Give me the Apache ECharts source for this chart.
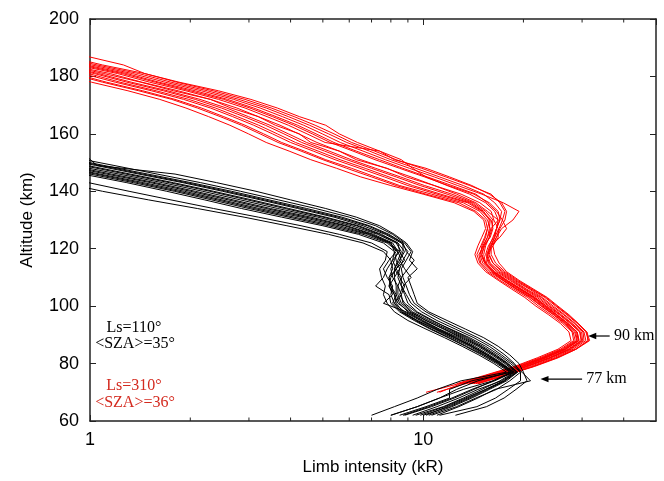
<!DOCTYPE html>
<html><head><meta charset="utf-8">
<script src="https://cdn.jsdelivr.net/npm/echarts@6/dist/echarts.min.js"></script>
<style>html,body{margin:0;padding:0;background:#fff}#c{width:664px;height:481px}</style>
</head><body><div id="c"></div>
<script>
// ---- data ----
const xTickLabels = ['1', '10'];
const minorTickValues = [2, 3, 4, 5, 6, 7, 8, 9, 20, 30, 40];

// Ls=110 (black) profiles: altitude grid (km) and intensity (kR) per profile
const blackAlt = [155,152,149,146,143,140,137,134,131,128,125,122,119,116,113,110,107,104,101,98,95,92,89,86,83,80,77,74,71,68,65,62];
const black01 = [0.5,0.67,0.9,1.22,1.65,2.18,2.83,3.66,4.82,6.1,7.3,8.3,8.6,8.4,8.2,8.2,8.3,8.3,8.5,9.0,10.0,11.2,12.8,14.3,15.8,17.3,18.8,17.0,15.0,13.2,11.5,9.5];
const black02 = [0.65,0.87,1.18,1.59,2.15,2.83,3.68,4.76,6.0,7.2,8.1,8.8,9.2,8.9,8.6,8.7,8.9,9.1,9.4,10.2,11.4,12.9,14.6,16.2,17.6,18.8,19.6,19.6,18.0,16.5,14.5,11.2];
const black03 = [0.39,0.52,0.71,0.95,1.29,1.7,2.21,2.85,3.76,5.0,6.4,7.6,8.2,8.1,7.8,7.6,7.2,7.9,8.0,8.5,9.4,10.5,11.9,13.4,15.0,16.6,18.2,14.6,12.6,11.2,9.6,8.0];
const black04 = [0.58,0.77,1.04,1.4,1.9,2.5,3.25,4.2,5.4,6.6,7.7,8.6,9.0,8.7,8.5,8.4,8.6,8.8,9.0,9.6,10.7,12.0,13.6,15.1,16.6,18.0,19.2,17.8,15.8,14.0,12.2,10.4];
const black05 = [0.44,0.59,0.8,1.07,1.45,1.92,2.49,3.22,4.3,5.6,6.9,8.0,8.3,7.9,7.6,7.8,8.1,8.0,8.2,8.8,9.8,11.0,12.5,14.0,15.5,17.0,18.6,16.2,14.2,12.4,10.6,8.8];
const black06 = [0.61,0.82,1.1,1.49,2.01,2.66,3.45,4.47,5.7,6.9,7.9,8.7,8.9,9.4,9.0,8.6,8.6,8.9,9.2,9.9,11.0,12.5,14.2,15.8,17.2,18.6,19.8,21.0,16.4,14.6,12.8,11.0];
const black07 = [0.48,0.64,0.86,1.16,1.57,2.07,2.69,3.48,4.6,5.9,7.1,8.1,8.4,8.6,8.3,8.0,7.9,8.2,8.4,9.1,10.2,11.5,13.0,14.6,16.1,17.6,19.0,17.2,14.6,12.8,11.0,9.3];
const black08 = [0.25,0.34,0.45,0.61,0.83,1.09,1.5,2.1,2.9,3.9,5.2,6.6,7.6,8.0,8.1,7.9,8.0,8.2,8.3,8.7,9.6,10.9,12.4,14.0,15.6,17.2,18.6,17.6,15.4,13.6,11.8,10.2];
const black09 = [0.9,0.98,1.05,1.8,2.4,3.15,4.0,5.1,6.3,7.4,8.2,8.9,9.3,9.1,9.6,9.0,9.2,9.4,9.6,10.4,11.8,13.4,15.2,16.8,18.2,19.4,20.0,20.5,19.0,17.5,15.5,12.5];
const black10 = [0.41,0.55,0.74,1.0,1.35,1.79,2.32,3.0,3.95,5.2,6.6,7.8,8.4,8.2,8.0,8.1,8.4,8.6,8.2,8.6,9.5,10.6,12.0,13.5,15.2,16.8,18.4,14.0,12.0,12.0,10.2,8.5];
const black11 = [0.54,0.72,0.98,1.32,1.78,2.35,3.06,3.95,5.1,6.4,7.5,8.4,8.8,8.5,8.2,8.5,8.8,8.6,8.7,9.3,10.4,11.8,13.4,14.9,16.4,17.9,19.2,17.4,15.4,13.4,11.6,9.8];
const black12 = [0.46,0.62,0.83,1.12,1.52,2.0,2.6,3.37,4.45,5.8,7.0,8.0,8.2,8.3,8.5,8.2,7.9,8.1,7.6,8.9,9.9,11.1,12.6,14.1,15.6,17.1,18.7,16.4,14.0,12.2,10.4,8.7];
const black13 = [0.59,0.79,1.07,1.44,1.95,2.57,3.34,4.32,5.55,6.8,7.8,8.7,8.7,8.5,8.8,9.2,8.7,8.5,8.8,9.5,10.6,12.1,13.8,15.4,16.9,18.3,19.6,18.2,16.6,14.4,12.6,10.6];
const black14 = [0.3,0.4,0.54,0.73,0.99,1.31,1.75,2.35,3.2,4.3,5.6,7.0,7.8,7.7,7.4,7.5,7.7,7.6,7.8,8.2,9.0,10.2,11.6,13.1,14.7,16.3,17.8,13.0,11.0,9.6,8.2,7.0];
const black15 = [0.52,0.7,0.95,1.28,1.73,2.29,2.97,3.84,5.0,6.3,7.4,8.4,8.5,8.1,8.3,8.6,8.4,8.4,8.6,9.2,10.2,11.6,13.2,14.8,16.3,17.8,19.1,17.6,15.6,13.8,12.0,10.0];
const black16 = [0.43,0.57,0.77,1.04,1.4,1.85,2.41,3.11,4.1,5.4,6.8,7.9,8.5,8.8,8.3,7.9,8.0,8.3,8.1,8.6,9.6,10.8,12.2,13.8,15.3,16.9,18.4,16.2,13.2,11.2,9.6,8.0];

// Ls=310 (red) profiles
const redAlt = [190,187,184,181,178,175,172,169,166,163,160,157,154,151,148,145,142,139,136,133,130,127,124,121,118,115,112,109,106,103,100,97,94,91,88,85,82,79,76,73,70];
const red01 = [0.75,0.98,1.26,1.46,1.85,2.43,3.04,3.65,4.25,5.1,5.6,6.35,7.4,8.2,10.2,12.0,14.0,15.8,17.2,17.8,17.6,17.0,16.6,16.2,16.4,16.9,17.8,19.4,21.4,23.6,25.4,27.4,29.2,31.0,31.2,28.8,25.4,21.6,17.8,14.6];
const red02 = [0.36,0.47,0.6,0.81,1.01,1.3,1.62,1.94,2.27,2.63,2.99,3.38,3.96,4.6,5.5,6.5,8.0,10.0,12.4,14.2,15.2,15.4,15.0,14.6,14.3,14.6,15.4,16.8,18.4,20.2,21.8,23.8,25.8,27.4,27.8,25.4,22.0,18.8,15.4,12.6];
const red03 = [0.58,0.75,0.97,1.29,1.61,2.07,2.59,3.1,3.62,4.2,4.77,5.4,6.3,7.4,8.7,10.3,12.2,14.4,15.6,16.6,17.3,17.8,17.0,16.0,15.6,15.9,17.0,18.6,20.4,22.6,24.3,26.4,28.4,30.2,30.4,27.8,24.2,20.6,17.0,14.0];
const red04 = [0.43,0.55,0.71,0.95,1.19,1.53,1.91,2.3,2.68,3.1,3.53,4.0,4.68,5.44,6.46,7.65,9.0,11.0,13.6,15.0,15.9,15.8,15.6,15.1,14.8,15.1,16.0,17.4,19.2,21.2,22.9,24.9,26.9,28.7,29.0,26.5,23.0,19.5,16.0,13.0,11.2];
const red05 = [0.5,0.65,0.84,1.1,1.42,1.78,2.3,2.65,3.2,3.6,4.25,4.6,5.6,6.3,7.8,8.9,10.8,12.6,14.4,15.6,16.8,16.0,15.6,15.2,15.0,15.4,16.3,17.8,19.6,21.6,23.4,25.2,27.2,29.0,29.3,26.8,23.2,19.8,16.4,13.4,11.0];
const red06 = [0.63,0.81,1.05,1.4,1.75,2.25,2.8,3.38,3.94,4.56,5.2,5.9,6.9,8.0,9.5,11.2,13.2,15.2,16.4,17.2,17.0,16.6,16.2,15.8,15.7,16.2,17.2,18.8,20.8,22.8,24.6,26.6,28.6,30.4,30.8,28.2,24.6,21.0,17.4,14.2];
const red07 = [0.39,0.51,0.66,0.87,1.09,1.4,1.76,2.1,2.46,2.85,3.24,3.67,4.3,5.0,5.9,7.0,8.3,10.2,12.8,14.4,15.4,15.6,15.3,14.9,14.5,14.8,15.6,17.0,18.7,20.6,22.2,24.2,26.2,28.0,28.3,25.8,22.4,19.0,15.6,12.8,10.2];
const red08 = [0.54,0.7,0.91,1.21,1.51,1.94,2.43,2.92,3.4,3.94,4.48,5.08,7.4,8.6,9.3,10.2,11.8,13.8,15.4,16.4,16.8,16.6,16.3,15.7,15.4,15.7,16.6,18.2,20.0,22.0,23.8,25.8,27.8,29.6,29.9,27.4,24.0,20.4,16.8,13.8];
const red09 = [0.46,0.6,0.77,1.03,1.29,1.66,2.07,2.48,2.9,3.36,3.82,4.32,5.06,5.9,7.0,8.3,9.8,11.8,14.0,15.2,15.8,15.6,15.4,15.0,14.9,15.3,16.2,17.6,19.4,21.4,23.1,25.1,27.1,28.9,29.2,26.7,23.3,19.9,16.3,13.3];
const red10 = [0.6,0.78,1.01,1.34,1.68,2.16,2.7,3.24,3.78,4.38,4.98,5.64,6.6,7.7,9.1,10.8,12.7,15.0,17.4,19.4,18.6,17.2,16.6,16.0,15.8,16.2,17.4,19.0,21.0,23.2,25.0,27.0,29.0,30.8,31.4,28.6,25.0,21.4,17.8,14.6];
const red11 = [0.4,0.52,0.67,0.9,1.12,1.44,1.8,2.16,2.52,2.92,3.32,3.76,4.4,5.1,6.1,7.2,8.5,10.6,13.2,14.8,15.6,15.9,15.8,15.4,15.2,15.4,16.1,17.4,19.0,20.9,22.6,24.6,26.5,28.2,28.6,26.1,22.7,19.3,15.9,12.9];
const red12 = [0.51,0.66,0.86,1.15,1.43,1.84,2.3,2.76,3.2,3.72,4.23,4.8,5.6,6.5,7.75,9.2,10.8,13.0,14.8,16.0,16.3,16.8,16.8,16.2,15.6,15.5,16.4,17.9,19.7,21.7,23.5,25.6,27.6,29.5,29.8,27.2,23.8,20.2,16.7,13.7];
const red13 = [0.48,0.62,0.8,1.06,1.33,1.71,2.14,2.57,2.99,3.47,3.94,4.47,5.22,6.08,7.2,8.55,10.1,12.2,14.2,15.4,16.2,16.1,15.8,15.3,15.0,15.3,16.2,17.7,19.5,21.5,23.2,25.2,27.2,29.0,29.4,26.8,23.4,19.9,16.4,13.4];
const red14 = [0.65,0.85,1.09,1.46,1.82,2.34,2.92,3.5,4.1,4.74,5.4,6.1,7.15,8.3,9.9,11.7,13.8,16.0,17.0,17.6,17.3,16.9,16.4,16.0,16.0,16.5,17.6,19.2,21.2,23.4,25.2,27.2,29.2,31.0,31.6,28.8,25.2,21.4,17.6,14.4];
const red15 = [0.44,0.57,0.74,0.99,1.23,1.58,1.98,2.38,2.77,3.21,3.65,4.14,4.84,5.63,6.7,7.9,9.3,11.3,13.8,15.1,16.0,16.2,15.9,15.2,14.7,14.9,15.8,17.3,19.0,21.0,22.7,24.7,26.7,28.5,28.9,26.3,22.8,19.4,16.0,13.1];
const red16 = [0.56,0.73,0.94,1.25,1.57,2.0,2.52,3.02,3.53,4.09,4.65,5.26,6.16,7.17,8.5,10.1,11.9,14.2,15.8,16.8,17.0,16.6,16.4,15.9,15.5,15.8,16.8,18.4,20.2,22.3,24.0,26.0,28.0,29.9,30.1,27.6,24.0,20.5,17.0,14.0];

const blackProfiles = [black01,black02,black03,black04,black05,black06,black07,black08,black09,black10,black11,black12,black13,black14,black15,black16];
const redProfiles = [red01,red02,red03,red04,red05,red06,red07,red08,red09,red10,red11,red12,red13,red14,red15,red16];

// annotation arrows (data coordinates: intensity kR, altitude km)
const arrowNotes = [
  {label: '90 km', head: [31.3, 89.6], tail: [36.3, 89.6], text: [37.4, 89.6]},
  {label: '77 km', head: [22.5, 74.6], tail: [30.0, 74.6], text: [30.9, 74.6]}
];

// ---- chart ----
const chart = echarts.init(document.getElementById('c'), null, {renderer: 'canvas'});
const FRAME = '#222';
const sans = '"Liberation Sans", Arial, sans-serif';
const serif = '"Liberation Serif", "Times New Roman", serif';

function profileSeries(alt, vals, color) {
  const n = Math.min(alt.length, vals.length);
  const data = [];
  for (let i = 0; i < n; i++) data.push([vals[i], alt[i]]);
  return {
    type: 'line', data: data, showSymbol: false, symbol: 'none', silent: true,
    lineStyle: {color: color, width: 1}, clip: true, animation: false, z: 2
  };
}

const series = [];
redProfiles.forEach(p => series.push(profileSeries(redAlt, p, '#ff0000')));
blackProfiles.forEach(p => series.push(profileSeries(blackAlt, p, '#000000')));

series.push({
  type: 'custom', silent: true, clip: false, animation: false, z: 5,
  data: minorTickValues.map(v => [v, 60]),
  encode: {x: 0, y: 1},
  renderItem: function (params, api) {
    const v = api.value(0);
    const pb = api.coord([v, 60]);
    const pt = api.coord([v, 200]);
    return {type: 'group', children: [
      {type: 'line', shape: {x1: pb[0], y1: pb[1], x2: pb[0], y2: pb[1] - 3.5}, style: {stroke: FRAME, lineWidth: 1}},
      {type: 'line', shape: {x1: pt[0], y1: pt[1], x2: pt[0], y2: pt[1] + 3.5}, style: {stroke: FRAME, lineWidth: 1}}
    ]};
  }
});

const axisLineStyle = {show: true, lineStyle: {color: FRAME, width: 1.5}};
const option = {
  animation: false,
  backgroundColor: '#fff',
  grid: {left: 90, right: 8, top: 19, bottom: 60, containLabel: false},
  xAxis: [
    {
      type: 'log', logBase: 10, min: 1, max: 50, position: 'bottom',
      axisLine: axisLineStyle,
      axisTick: {show: true, inside: true, length: 6, lineStyle: {color: FRAME, width: 1}},
      minorTick: {show: false}, splitLine: {show: false},
      axisLabel: {
        fontFamily: sans, fontSize: 18, color: '#000', margin: 10,
        showMaxLabel: false,
        formatter: v => (xTickLabels.indexOf(String(Math.round(v))) >= 0 && Math.abs(v - Math.round(v)) < 1e-6) ? String(Math.round(v)) : ''
      },
      name: 'Limb intensity (kR)', nameLocation: 'middle', nameGap: 38,
      nameTextStyle: {fontFamily: sans, fontSize: 17, color: '#000'}
    },
    {
      type: 'log', logBase: 10, min: 1, max: 50, position: 'top',
      axisLine: axisLineStyle,
      axisTick: {show: true, inside: true, length: 6, lineStyle: {color: FRAME, width: 1}},
      axisLabel: {show: false}, splitLine: {show: false}
    }
  ],
  yAxis: [
    {
      type: 'value', min: 60, max: 200, interval: 20, position: 'left',
      axisLine: axisLineStyle,
      axisTick: {show: true, inside: true, length: 6, lineStyle: {color: FRAME, width: 1}},
      splitLine: {show: false},
      axisLabel: {fontFamily: sans, fontSize: 18, color: '#000', margin: 11},
      name: 'Altitude (km)', nameLocation: 'middle', nameGap: 54,
      nameTextStyle: {fontFamily: sans, fontSize: 17, color: '#000'}
    },
    {
      type: 'value', min: 60, max: 200, interval: 20, position: 'right',
      axisLine: axisLineStyle,
      axisTick: {show: true, inside: true, length: 6, lineStyle: {color: FRAME, width: 1}},
      splitLine: {show: false}, axisLabel: {show: false}
    }
  ],
  series: series
};
chart.setOption(option);

// annotations
const toPx = p => chart.convertToPixel({xAxisIndex: 0, yAxisIndex: 0}, p);
const graphics = [
  {type: 'text', z: 10, style: {x: 134, y: 328, text: 'Ls=110°', font: '16px ' + serif, fill: '#000', align: 'center', verticalAlign: 'middle'}},
  {type: 'text', z: 10, style: {x: 135, y: 344, text: '<SZA>=35°', font: '16px ' + serif, fill: '#000', align: 'center', verticalAlign: 'middle'}},
  {type: 'text', z: 10, style: {x: 134, y: 386, text: 'Ls=310°', font: '16px ' + serif, fill: '#d42a1f', align: 'center', verticalAlign: 'middle'}},
  {type: 'text', z: 10, style: {x: 135, y: 403, text: '<SZA>=36°', font: '16px ' + serif, fill: '#d42a1f', align: 'center', verticalAlign: 'middle'}}
];
arrowNotes.forEach(n => {
  const h = toPx(n.head), t = toPx(n.tail), tx = toPx(n.text);
  graphics.push({type: 'line', z: 10, shape: {x1: h[0] + 6, y1: h[1], x2: t[0], y2: t[1]}, style: {stroke: '#000', lineWidth: 1.2}});
  graphics.push({type: 'polygon', z: 10, shape: {points: [[h[0], h[1]], [h[0] + 8, h[1] - 3.2], [h[0] + 8, h[1] + 3.2]]}, style: {fill: '#000'}});
  graphics.push({type: 'text', z: 10, style: {x: tx[0], y: tx[1], text: n.label, font: '16px ' + serif, fill: '#000', align: 'left', verticalAlign: 'middle'}});
});
chart.setOption({graphic: graphics});
</script>
</body></html>
